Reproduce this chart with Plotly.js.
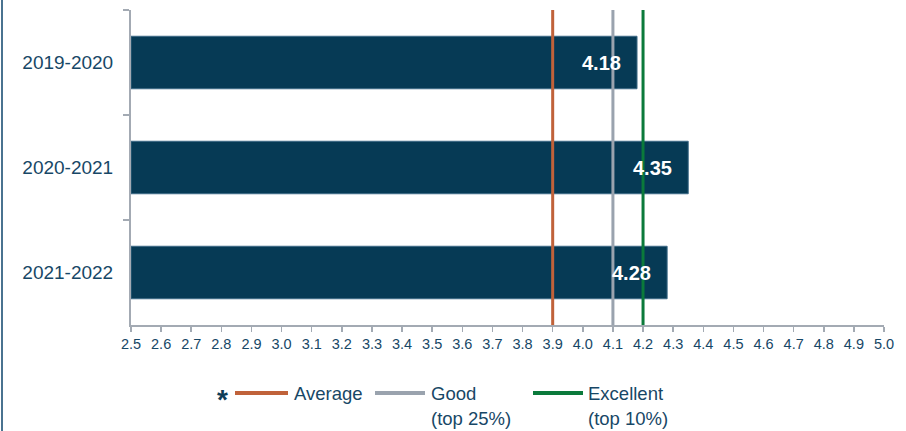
<!DOCTYPE html>
<html>
<head>
<meta charset="utf-8">
<script src="https://cdn.plot.ly/plotly-3.0.1.min.js"></script>
<style>
  html, body { margin: 0; padding: 0; background: #ffffff; }
  #chart { width: 906px; height: 431px; }
</style>
</head>
<body>
<div id="chart"></div>
<script>
// ---- data ----
const categories = ['2019-2020', '2020-2021', '2021-2022'];
const scores = [4.18, 4.35, 4.28];
const benchmarkNames = ['Average', 'Good', 'Excellent'];
const benchmarkSubs = ['', '(top 25%)', '(top 10%)'];
const benchmarkValues = [3.9, 4.1, 4.2];
const xTickStart = 2.5;
const xTickEnd = 5.0;

// ---- styles ----
const FONT = '"Liberation Sans Narrow", "Arial Narrow", "Liberation Sans", Arial, sans-serif';
const TEXT = '#174766';
const BAR = '#063A55';
const AXIS = '#A3AAB3';
const benchmarkColors = ['#C0623A', '#9AA3AE', '#0B7A3B'];

const W = 906, H = 431;
const M = {l: 131, r: 22, t: 10, b: 106};
const pw = W - M.l - M.r, ph = H - M.t - M.b;
const px = x => (x - M.l) / pw;
const py = y => (H - M.b - y) / ph;

const shapes = [];
const annotations = [];

// benchmark vertical lines
benchmarkValues.forEach((v, i) => {
  shapes.push({type: 'line', xref: 'x', yref: 'paper', x0: v, x1: v, y0: 0, y1: 1,
    line: {color: benchmarkColors[i], width: 3}, layer: 'above'});
});

// left border
shapes.push({type: 'line', xref: 'paper', yref: 'paper', x0: px(2), x1: px(2), y0: py(0), y1: py(H),
  line: {color: '#4A7390', width: 2}});

// bar value labels
scores.forEach((s, i) => {
  annotations.push({x: s, y: categories[i], xref: 'x', yref: 'y', text: s.toFixed(2),
    showarrow: false, xanchor: 'right', yanchor: 'middle', xshift: -14,
    font: {family: FONT, size: 20, color: '#ffffff', weight: 'bold'}});
});

// manual legend
annotations.push({xref: 'paper', yref: 'paper', x: px(222), y: py(399), text: '<b>*</b>',
  showarrow: false, xanchor: 'center', yanchor: 'middle',
  font: {family: FONT, size: 28, color: '#0F3D57'}});
const legX = [[235, 288, 292], [375, 425, 429], [533, 583, 586]];
benchmarkNames.forEach((n, i) => {
  const [a, b, t] = legX[i];
  shapes.push({type: 'line', xref: 'paper', yref: 'paper', x0: px(a), x1: px(b), y0: py(393), y1: py(393),
    line: {color: benchmarkColors[i], width: 4}});
  annotations.push({xref: 'paper', yref: 'paper', x: px(t), y: py(393), text: n,
    showarrow: false, xanchor: 'left', yanchor: 'middle',
    font: {family: FONT, size: 18.5, color: TEXT}});
  if (benchmarkSubs[i]) {
    annotations.push({xref: 'paper', yref: 'paper', x: px(t), y: py(418), text: benchmarkSubs[i],
      showarrow: false, xanchor: 'left', yanchor: 'middle',
      font: {family: FONT, size: 18.5, color: TEXT}});
  }
});

const trace = {
  type: 'bar', orientation: 'h',
  x: scores.map(s => s - xTickStart), y: categories,
  base: xTickStart,
  width: 0.5,
  marker: {color: BAR, line: {color: '#3C6A86', width: 1}},
  hoverinfo: 'skip', showlegend: false
};

const layout = {
  width: W, height: H,
  margin: M,
  paper_bgcolor: '#ffffff', plot_bgcolor: '#ffffff',
  showlegend: false,
  font: {family: FONT, color: TEXT},
  xaxis: {
    range: [xTickStart, xTickEnd], dtick: 0.1, tick0: xTickStart, tickformat: '.1f',
    ticks: 'outside', ticklen: 5, tickwidth: 1.5, tickcolor: AXIS,
    showline: true, linecolor: AXIS, linewidth: 2,
    showgrid: false, zeroline: false,
    tickfont: {family: FONT, size: 14.5, color: TEXT}
  },
  yaxis: {
    type: 'category', range: [2.5, -0.5], tickson: 'boundaries',
    ticks: 'outside', ticklen: 6, tickwidth: 1.5, tickcolor: AXIS,
    showline: true, linecolor: AXIS, linewidth: 2,
    showgrid: false, zeroline: false,
    ticklabelstandoff: 12,
    tickfont: {family: FONT, size: 19, color: TEXT}
  },
  shapes: shapes,
  annotations: annotations
};

Plotly.newPlot('chart', [trace], layout, {displayModeBar: false, staticPlot: true});
</script>
</body>
</html>
